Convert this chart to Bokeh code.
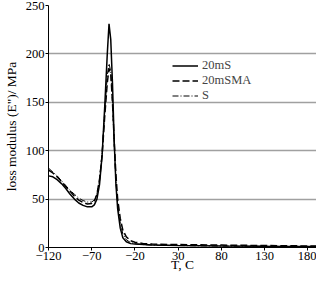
from bokeh.plotting import figure
from bokeh.models import FixedTicker, Range1d, Legend, LegendItem
from bokeh.embed import file_html
from bokeh.resources import INLINE

T = [-120, -115, -110, -105, -100, -95, -90, -85, -80, -75, -70, -67, -64, -61, -58, -55, -52, -50,
     -48, -46, -44, -42, -40, -37, -34, -30, -25, -20, -10, 0, 30, 80, 130, 190]
e_20mS = [74, 73, 70, 66, 61, 55, 50, 46, 43.5, 42, 42, 44, 50, 65, 95, 145, 200, 231,
          215, 170, 110, 65, 40, 20, 10, 6, 4, 3.5, 3, 2.5, 2, 1.5, 1.2, 1]
e_20mSMA = [80, 77, 73, 68, 63, 58, 53, 49, 46.5, 45, 45.5, 48, 55, 70, 95, 135, 170, 185,
            180, 150, 110, 75, 50, 30, 18, 11, 7, 5.5, 4, 3.5, 3, 2.5, 2, 1.5]
e_S = [82, 78, 74, 69, 64, 59, 55, 51, 48.5, 47, 47, 49, 55, 70, 98, 140, 178, 190,
       182, 150, 105, 68, 45, 25, 14, 8, 5, 4, 3, 2.5, 2, 1.5, 1.2, 1]

x_ticks = [-120, -70, -20, 30, 80, 130, 180]
y_ticks = [0, 50, 100, 150, 200, 250]
x_label = "T, C"
y_label = 'loss modulus (E")/ MPa'

FONT = "Liberation Serif"

p = figure(width=316, height=274, output_backend="svg", toolbar_location=None,
           x_range=Range1d(-120, 190), y_range=Range1d(0, 250),
           min_border_left=38, min_border_right=0, min_border_top=5, min_border_bottom=0)
p.outline_line_color = None
p.background_fill_color = "white"
p.border_fill_color = "white"

l1 = p.line(T, e_20mS, line_color="black", line_width=1.5)
l2 = p.line(T, e_20mSMA, line_color="black", line_width=1.5, line_dash="7 3")
l3 = p.line(T, e_S, line_color="black", line_width=1, line_dash="6 2 1 2")

p.xgrid.grid_line_color = None
p.ygrid.grid_line_color = "#a0a0a0"
p.ygrid.grid_line_width = 1.5

p.xaxis.ticker = FixedTicker(ticks=x_ticks)
p.yaxis.ticker = FixedTicker(ticks=y_ticks)
for ax in (p.xaxis[0], p.yaxis[0]):
    ax.axis_line_color = "black"
    ax.major_tick_line_color = "black"
    ax.minor_tick_line_color = None
    ax.major_tick_in = 0
    ax.major_tick_out = 3
    ax.major_label_text_font = FONT
    ax.major_label_text_font_size = "12.5px"
    ax.major_label_text_color = "black"
    ax.axis_label_text_font = FONT
    ax.axis_label_text_font_size = "13.5px"
    ax.axis_label_text_font_style = "normal"
    ax.axis_label_text_color = "black"
    ax.major_label_standoff = 1
p.xaxis.axis_label_standoff = -6
p.yaxis.axis_label_standoff = 4
p.xaxis.major_label_overrides = {t: str(t).replace("-", "\u2212") for t in x_ticks}
p.xaxis.axis_label = x_label
p.yaxis.axis_label = y_label

legend = Legend(items=[LegendItem(label="20mS", renderers=[l1]),
                       LegendItem(label="20mSMA", renderers=[l2]),
                       LegendItem(label="S", renderers=[l3])],
                location=(124, 144))
legend.border_line_color = None
legend.background_fill_alpha = 0
legend.label_text_font = FONT
legend.label_text_font_size = "12.5px"
legend.label_text_line_height = 0.9
legend.glyph_width = 26
legend.glyph_height = 11
legend.label_height = 11
legend.spacing = 0
legend.padding = 2
legend.label_standoff = 4
p.add_layout(legend)

open("out.html", "w").write(file_html(p, INLINE))
